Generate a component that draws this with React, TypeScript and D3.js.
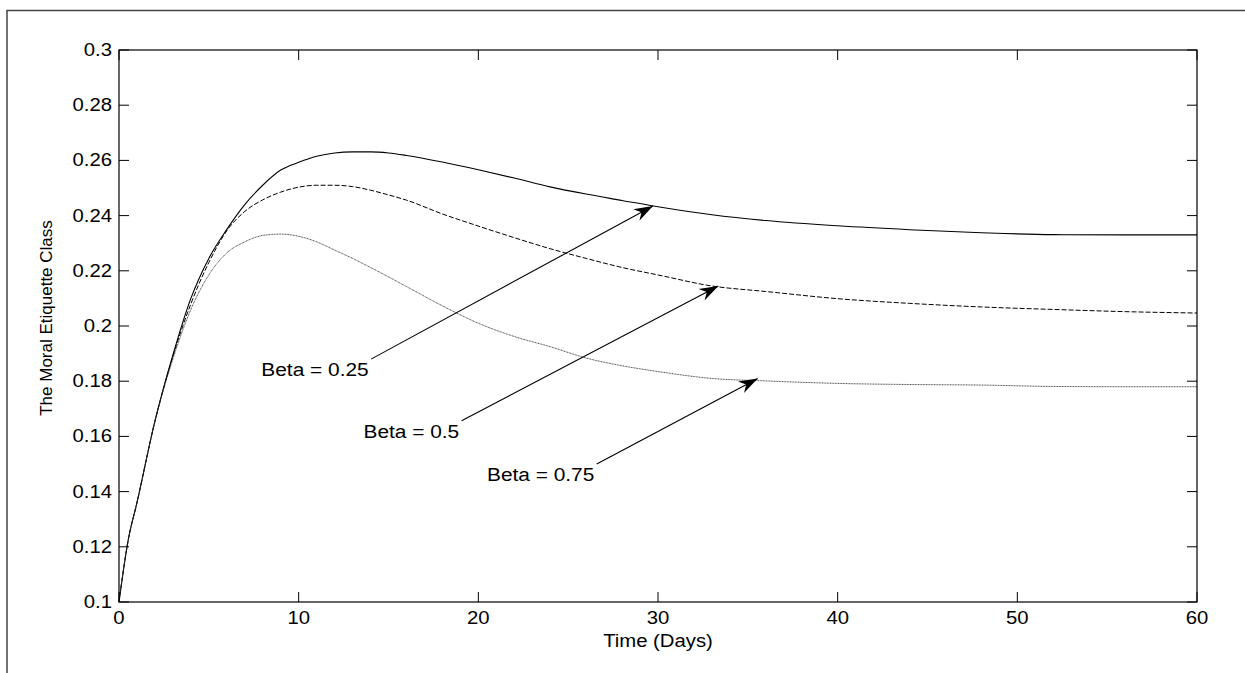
import React from 'react';
import * as d3 from 'd3';

// time grid (days) and the three curves
const days = [0, 0.5, 1, 2, 3, 4, 5, 6, 7, 8, 9, 10, 11, 12, 13, 14, 15, 16, 18, 20, 22, 24, 26, 28, 30, 33, 36, 40, 44, 48, 52, 56, 60];

const beta025 = [0.1, 0.122, 0.136, 0.1655, 0.1895, 0.21, 0.2245, 0.235, 0.244, 0.251, 0.2565, 0.2593, 0.2615, 0.2627, 0.2631, 0.2631, 0.2627, 0.2618, 0.2594, 0.2566, 0.2536, 0.2504, 0.2478, 0.2455, 0.2432, 0.2403, 0.2382, 0.2363, 0.2349, 0.2338, 0.2331, 0.233, 0.233];

const beta050 = [0.1, 0.122, 0.136, 0.1655, 0.189, 0.208, 0.223, 0.2345, 0.2415, 0.2457, 0.2485, 0.2503, 0.251, 0.251, 0.2505, 0.2492, 0.2475, 0.2456, 0.2406, 0.2362, 0.232, 0.228, 0.2245, 0.2212, 0.2185, 0.2145, 0.2125, 0.2099, 0.2082, 0.2069, 0.206, 0.2052, 0.2047];

const beta075 = [0.1, 0.122, 0.136, 0.1655, 0.188, 0.206, 0.2185, 0.2265, 0.2305, 0.2328, 0.2333, 0.2325, 0.2305, 0.2275, 0.2245, 0.2212, 0.2178, 0.2143, 0.2073, 0.201, 0.1962, 0.1925, 0.1884, 0.1856, 0.1835, 0.181, 0.1801, 0.1792, 0.1788, 0.1786, 0.1781, 0.178, 0.178];

const xTicks = [0, 10, 20, 30, 40, 50, 60];
const yTicks = [0.1, 0.12, 0.14, 0.16, 0.18, 0.2, 0.22, 0.24, 0.26, 0.28, 0.3];
const yTickLabels = ['0.1', '0.12', '0.14', '0.16', '0.18', '0.2', '0.22', '0.24', '0.26', '0.28', '0.3'];

// annotations: label, arrow start (day, value), arrow tip (day, value)
const annLabels = ['Beta = 0.25', 'Beta = 0.5', 'Beta = 0.75'];
const annFrom = [[14.03, 0.188], [19.07, 0.1657], [26.59, 0.15]];
const annTo = [[29.72, 0.2435], [33.36, 0.2145], [35.55, 0.181]];

const W = 1245, H = 673;
const left = 119, right = 1197, top = 50, bottom = 602;
const font = 'Arial, "Liberation Sans", Helvetica, sans-serif';
const sx = 1.16; // the original figure is stretched horizontally

export default function App() {
  const x = d3.scaleLinear().domain([0, 60]).range([left, right]);
  const y = d3.scaleLinear().domain([0.1, 0.3]).range([bottom, top]);

  const line = d3.line<number>()
    .x((d, i) => x(days[i]))
    .y(d => y(d))
    .curve(d3.curveMonotoneX);

  const series = [
    { vals: beta025, dash: null, color: '#000', w: 1.1 },
    { vals: beta050, dash: '5,2', color: '#000', w: 1 },
    { vals: beta075, dash: '1,0.6', color: '#333', w: 0.9 },
  ];

  return (
    <div style={{ position: 'absolute', left: 0, top: 0 }}>
      <svg width={W} height={H} style={{ display: 'block', background: '#fff' }} fontFamily={font}>
        <defs>
          <marker id="head" markerUnits="userSpaceOnUse" markerWidth="24" markerHeight="16"
            viewBox="-20 -8 22 16" refX="0" refY="0" orient="auto">
            <path d="M0,0 L-19,-6.5 L-13,0 L-19,6.5 Z" fill="#000" />
          </marker>
        </defs>

        {/* outer figure frame */}
        <rect x={7} y={10.5} width={W} height={H} fill="none" stroke="#444" strokeWidth={1.5} />

        {/* curves */}
        {series.map((s, i) => (
          <path key={i} d={line(s.vals) || ''} fill="none" stroke={s.color}
            strokeWidth={s.w} strokeDasharray={s.dash || undefined} />
        ))}

        {/* axes box */}
        <rect x={left} y={top} width={right - left} height={bottom - top} fill="none" stroke="#000" strokeWidth={1.2} />

        {xTicks.map(t => (
          <g key={'x' + t}>
            <line x1={x(t)} x2={x(t)} y1={bottom} y2={bottom - 10} stroke="#000" />
            <line x1={x(t)} x2={x(t)} y1={top} y2={top + 10} stroke="#000" />
            <text transform={`translate(${x(t)},${bottom + 22}) scale(${sx},1)`} textAnchor="middle" fontSize={17.5}>{t}</text>
          </g>
        ))}

        {yTicks.map((t, i) => (
          <g key={'y' + t}>
            <line x1={left} x2={left + 10} y1={y(t)} y2={y(t)} stroke="#000" />
            <line x1={right} x2={right - 10} y1={y(t)} y2={y(t)} stroke="#000" />
            <text transform={`translate(${left - 7},${y(t) + 6}) scale(${sx},1)`} textAnchor="end" fontSize={17.5}>{yTickLabels[i]}</text>
          </g>
        ))}

        <text transform={`translate(${(left + right) / 2},${bottom + 45}) scale(${sx},1)`} textAnchor="middle" fontSize={17.5}>Time (Days)</text>
        <text transform={`translate(52,${(top + bottom) / 2 - 8}) rotate(-90)`} textAnchor="middle" fontSize={17}>The Moral Etiquette Class</text>

        {/* annotations */}
        {annLabels.map((lab, i) => {
          const x0 = x(annFrom[i][0]), y0 = y(annFrom[i][1]);
          return (
            <g key={lab}>
              <line x1={x0} y1={y0} x2={x(annTo[i][0])} y2={y(annTo[i][1])} stroke="#000" strokeWidth={1.1} markerEnd="url(#head)" />
              <text transform={`translate(${x0 - 2.4},${y0 + 17}) scale(${sx},1)`} textAnchor="end" fontSize={18}>{lab}</text>
            </g>
          );
        })}
      </svg>
    </div>
  );
}
